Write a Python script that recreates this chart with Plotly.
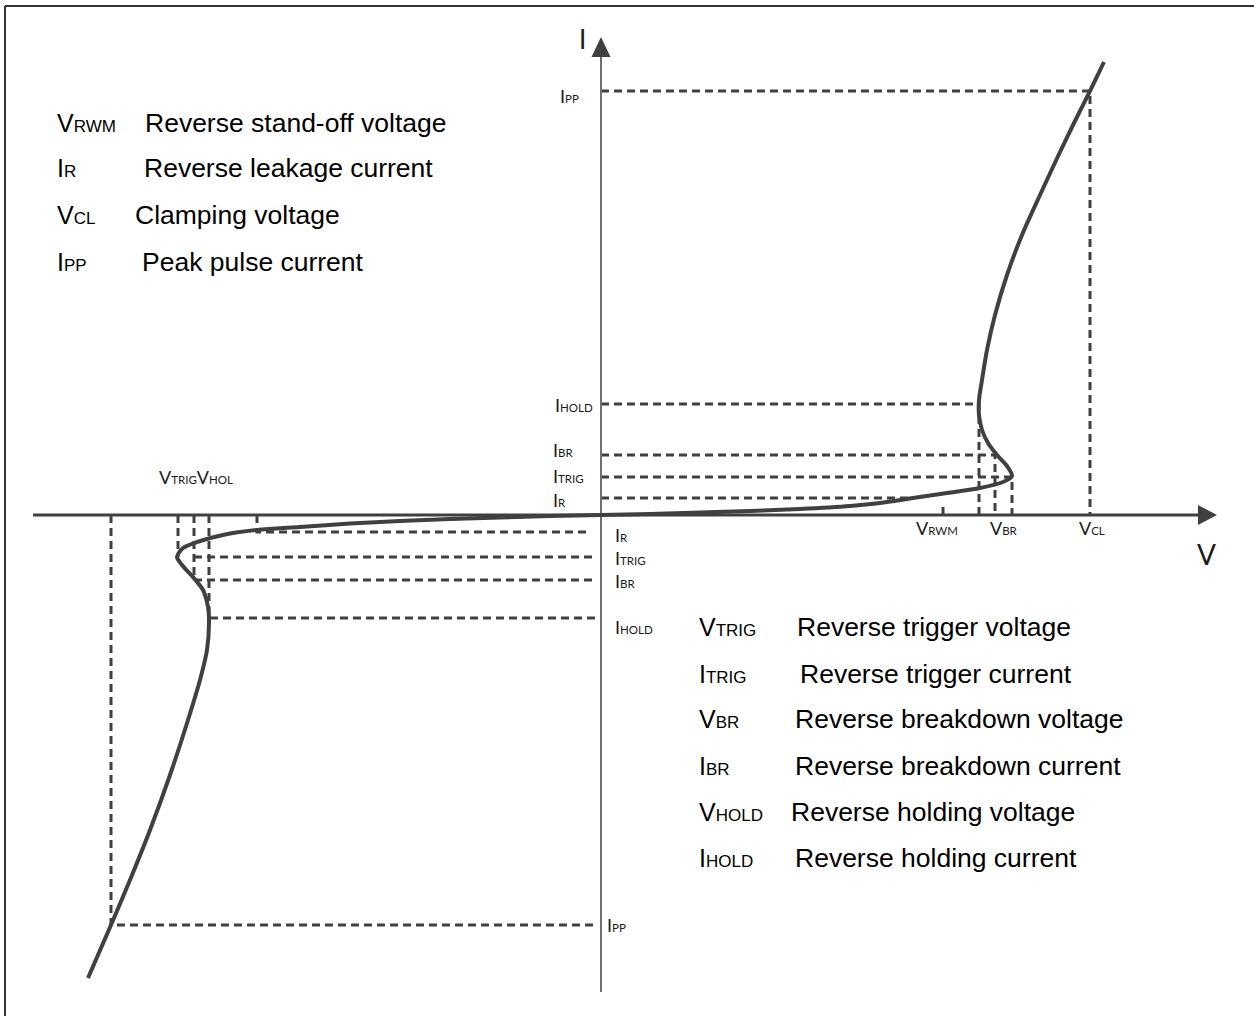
import numpy as np
import plotly.graph_objects as go

W, H = 1254, 1016
OX, OY = 601, 515  # where the V and I axes cross, in figure pixels

INK = "#404040"
AXIS_GRAY = "#707070"
LABEL_FONT = "Lato"
TEXT_FONT = "Liberation Sans"

# Characteristic points of the forward (first quadrant) branch
V_RWM, V_HOLD, V_BR, V_TRIG, V_CL = 342, 378, 394, 411, 489
I_R, I_TRIG, I_BR, I_HOLD, I_PP = 17, 38, 60, 111, 424

# Characteristic points of the reverse (third quadrant) branch
V_RWM_N, V_HOLD_N, V_BR_N, V_TRIG_N, V_CL_N = -344, -392, -407, -423, -490
I_R_N, I_TRIG_N, I_BR_N, I_HOLD_N, I_PP_N = -17, -42, -65, -103, -410

# Snapback I-V curve, forward branch
v_pos = [0, 49, 99, 149, 199, 249, 279, 312, 346, 379, 402, 411, 406, 396, 387,
         381, 378, 378, 381, 386, 394, 406, 421, 439, 459, 474, 489, 503]
i_pos = [0, 1, 2.5, 4, 6, 9, 12, 17, 22, 27, 33, 39, 49, 60, 72,
         85, 100, 115, 135, 165, 200, 240, 280, 320, 363, 394, 424, 453]

# Snapback I-V curve, reverse branch
v_neg = [0, -51, -101, -151, -201, -251, -301, -344, -378, -404, -418, -424, -419,
         -408, -398, -393, -392, -394, -401, -413, -431, -451, -471, -490, -513]
i_neg = [0, -1, -2.5, -4, -6, -8.5, -12, -15, -20, -27, -33, -42, -50,
         -62, -75, -92, -108, -135, -165, -205, -260, -315, -365, -410, -463]

# Symbol tables
legend_top = [("V", "RWM", "Reverse stand-off voltage"),
              ("I", "R", "Reverse leakage current"),
              ("V", "CL", "Clamping voltage"),
              ("I", "PP", "Peak pulse current")]
legend_bottom = [("V", "TRIG", "Reverse trigger voltage"),
                 ("I", "TRIG", "Reverse trigger current"),
                 ("V", "BR", "Reverse breakdown voltage"),
                 ("I", "BR", "Reverse breakdown current"),
                 ("V", "HOLD", "Reverse holding voltage"),
                 ("I", "HOLD", "Reverse holding current")]

# layout of the two symbol tables (figure pixels)
top_rows_y = [123, 168, 215, 262]
top_desc_x = [143, 142, 133, 140]
bottom_rows_y = [627, 674, 719, 766, 812, 858]
bottom_desc_x = [795, 798, 793, 793, 789, 793]

fig = go.Figure()


def dashed(xs, ys):
    fig.add_trace(go.Scatter(x=xs, y=ys, mode="lines", hoverinfo="skip",
                             line=dict(color=INK, width=3, dash="8px,5px")))


# Guide lines, forward branch
i_r_cross = float(np.interp(I_R, i_pos[:12], v_pos[:12]))
dashed([0, V_CL, V_CL], [I_PP, I_PP, 0])
dashed([0, V_HOLD, V_HOLD], [I_HOLD, I_HOLD, 0])
dashed([0, V_BR, V_BR], [I_BR, I_BR, 0])
dashed([0, V_TRIG, V_TRIG], [I_TRIG, I_TRIG, 0])
dashed([0, i_r_cross], [I_R, I_R])
dashed([V_RWM, V_RWM], [0, I_R * 0.6])

# Guide lines, reverse branch
dashed([V_CL_N, V_CL_N, -3], [0, I_PP_N, I_PP_N])
dashed([V_HOLD_N, V_HOLD_N, -5], [0, I_HOLD_N, I_HOLD_N])
dashed([V_BR_N, V_BR_N, -8], [0, I_BR_N, I_BR_N])
dashed([V_TRIG_N, V_TRIG_N], [0, I_TRIG_N])
dashed([V_BR_N, -4], [I_TRIG_N, I_TRIG_N])
dashed([V_RWM_N, V_RWM_N, -10], [0, I_R_N, I_R_N])

# Axes
fig.add_trace(go.Scatter(x=[-568, 597], y=[0, 0], mode="lines", hoverinfo="skip",
                         line=dict(color=INK, width=3)))
fig.add_trace(go.Scatter(x=[0, 0], y=[-477, 458], mode="lines", hoverinfo="skip",
                         line=dict(color=AXIS_GRAY, width=2)))

# I-V curve
for vs, cs in ((v_pos, i_pos), (v_neg, i_neg)):
    fig.add_trace(go.Scatter(x=vs, y=cs, mode="lines", hoverinfo="skip",
                             line=dict(color=INK, width=4, shape="spline", smoothing=0.8)))

shapes = [
    dict(type="path", path="M -9.5,458 L 9.5,458 L 0,478 Z", fillcolor=INK, line=dict(width=0)),
    dict(type="path", path="M 597,10 L 597,-10 L 616,0 Z", fillcolor=INK, line=dict(width=0)),
    # frame
    dict(type="line", xref="paper", yref="paper", x0=5 / W, x1=1, y0=1 - 6 / H, y1=1 - 6 / H,
         line=dict(color="#333333", width=2)),
    dict(type="line", xref="paper", yref="paper", x0=5 / W, x1=5 / W, y0=0, y1=1 - 6 / H,
         line=dict(color="#333333", width=2)),
]

annotations = []


def sym(main, sub, subsize):
    return f'{main}<span style="font-size:{subsize}px">{sub}</span>'


def note(x_px, y_px, text, size, family, anchor="left", color="#000000"):
    annotations.append(dict(x=x_px - OX, y=OY - y_px, text=text, showarrow=False,
                            xanchor=anchor, yanchor="middle",
                            font=dict(family=family, size=size, color=color)))


# Symbol tables
for (m, s, d), y, dx in zip(legend_top, top_rows_y, top_desc_x):
    note(55, y, sym(m, s, 17), 25, TEXT_FONT)
    note(dx, y, d, 26.5, TEXT_FONT)
for (m, s, d), y, dx in zip(legend_bottom, bottom_rows_y, bottom_desc_x):
    note(697, y, sym(m, s, 17), 25, TEXT_FONT)
    note(dx, y, d, 26.5, TEXT_FONT)

LBL = "#1a1a1a"
# Current labels beside the I axis
note(558, 96, sym("I", "PP", 11.5), 18, LABEL_FONT, color=LBL)
note(553, 405, sym("I", "HOLD", 11.5), 18, LABEL_FONT, color=LBL)
note(551, 450, sym("I", "BR", 11.5), 18, LABEL_FONT, color=LBL)
note(551, 476, sym("I", "TRIG", 11.5), 18, LABEL_FONT, color=LBL)
note(551, 500, sym("I", "R", 11.5), 18, LABEL_FONT, color=LBL)
note(613, 535, sym("I", "R", 11.5), 18, LABEL_FONT, color=LBL)
note(613, 558, sym("I", "TRIG", 11.5), 18, LABEL_FONT, color=LBL)
note(613, 581, sym("I", "BR", 11.5), 18, LABEL_FONT, color=LBL)
note(613, 627, sym("I", "HOLD", 11.5), 18, LABEL_FONT, color=LBL)
note(605, 925, sym("I", "PP", 11.5), 18, LABEL_FONT, color=LBL)

# Voltage labels along the V axis
note(937, 528, sym("V", "RWM", 11.5), 18, LABEL_FONT, "center", LBL)
note(1004, 528, sym("V", "BR", 11.5), 18, LABEL_FONT, "center", LBL)
note(1092, 528, sym("V", "CL", 11.5), 18, LABEL_FONT, "center", LBL)
note(157, 477, sym("V", "TRIG", 11.5) + sym("V", "HOL", 11.5), 18, LABEL_FONT, color=LBL)

# Axis names
note(582, 39, "I", 26, LABEL_FONT, "center", LBL)
note(1206, 554, "V", 28, LABEL_FONT, "center", LBL)

fig.update_layout(
    width=W, height=H, margin=dict(l=0, r=0, t=0, b=0),
    paper_bgcolor="white", plot_bgcolor="white", showlegend=False,
    xaxis=dict(range=[-OX, W - OX], visible=False, fixedrange=True),
    yaxis=dict(range=[OY - H, OY], visible=False, fixedrange=True),
    shapes=shapes, annotations=annotations,
)

fig.write_html("out.html")
